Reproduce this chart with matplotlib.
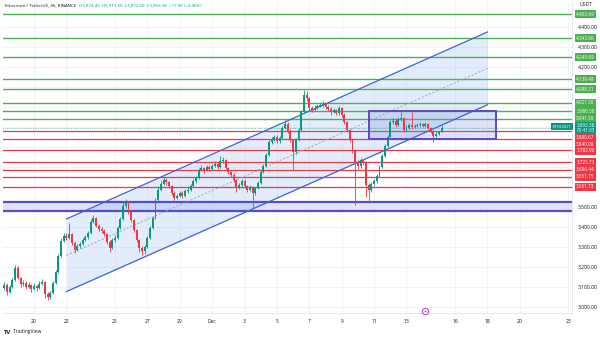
import matplotlib
matplotlib.use("Agg")
import matplotlib.pyplot as plt
import matplotlib.dates as mdates
import matplotlib.transforms as mtransforms
import numpy as np
import pandas as pd

plt.rcParams['font.family'] = ['Open Sans', 'DejaVu Sans']

# ETH/USDT 4h candles (Binance), starting 2024-11-18 04:00
first_open = 3095.0
closes = [
    3110, 3075, 3100, 3135, 3195, 3145, 3115, 3120, 3100, 3110,
    3090, 3105, 3095, 3115, 3125, 3065, 3050, 3070, 3120, 3175,
    3255, 3330, 3355, 3345, 3365, 3320, 3285, 3305, 3315, 3335,
    3350, 3370, 3425, 3445, 3405, 3390, 3380, 3365, 3325, 3295,
    3335, 3345, 3395, 3440, 3505, 3520, 3475, 3435, 3385, 3335,
    3295, 3280, 3300, 3345, 3395, 3445, 3535, 3585, 3615, 3635,
    3625, 3605, 3570, 3545, 3555, 3570, 3555, 3580, 3585, 3605,
    3630, 3645, 3685, 3695, 3685, 3700, 3690, 3705, 3715, 3700,
    3730, 3735, 3695, 3675, 3660, 3635, 3595, 3610, 3630, 3605,
    3585, 3600, 3570, 3595, 3620, 3675, 3705, 3760, 3825, 3835,
    3850, 3830, 3845, 3895, 3915, 3880, 3835, 3775, 3835, 3885,
    3975, 4060, 4045, 3995, 3985, 3995, 4005, 4010, 4015, 4000,
    3990, 3975, 3985, 3970, 3995, 3960, 3925, 3885, 3835, 3785,
    3725, 3705, 3735, 3725, 3610, 3585, 3615, 3630, 3655, 3700,
    3755, 3805, 3850, 3925, 3930, 3910, 3940, 3945, 3885, 3895,
    3910, 3900, 3905, 3910, 3915, 3905, 3915, 3895, 3880, 3855,
    3865, 3874.49, 3893.38,
]
highs = [
    3125, 3118, 3108, 3145, 3210, 3205, 3150, 3135, 3128, 3125,
    3115, 3120, 3112, 3130, 3140, 3130, 3075, 3080, 3128, 3185,
    3265, 3345, 3370, 3372, 3420, 3372, 3328, 3315, 3325, 3345,
    3362, 3380, 3440, 3460, 3452, 3415, 3398, 3390, 3372, 3335,
    3345, 3360, 3405, 3450, 3530, 3540, 3528, 3482, 3442, 3392,
    3340, 3305, 3310, 3355, 3405, 3455, 3545, 3600, 3628, 3648,
    3645, 3632, 3612, 3578, 3565, 3580, 3578, 3590, 3598, 3615,
    3640, 3655, 3695, 3708, 3702, 3712, 3708, 3715, 3728, 3722,
    3755, 3748, 3740, 3702, 3682, 3668, 3640, 3620, 3640, 3638,
    3612, 3610, 3605, 3602, 3630, 3685, 3715, 3770, 3835, 3850,
    3862, 3858, 3855, 3905, 3935, 3925, 3888, 3842, 3845, 3895,
    3985, 4085, 4080, 4052, 4005, 4008, 4015, 4022, 4028, 4022,
    4008, 3998, 3995, 3992, 4005, 4002, 3968, 3932, 3890, 3842,
    3792, 3735, 3745, 3742, 3730, 3620, 3625, 3640, 3665, 3710,
    3765, 3815, 3860, 3935, 3945, 3940, 3950, 3975, 3950, 3908,
    3920, 3975, 3915, 3920, 3925, 3922, 3925, 3920, 3900, 3885,
    3875, 3882, 3911.5,
]
lows = [
    3085, 3060, 3068, 3095, 3128, 3138, 3100, 3105, 3090, 3095,
    3075, 3085, 3080, 3090, 3108, 3045, 3035, 3042, 3065, 3115,
    3170, 3248, 3325, 3335, 3340, 3310, 3270, 3278, 3295, 3308,
    3328, 3342, 3365, 3418, 3398, 3380, 3370, 3355, 3315, 3275,
    3288, 3325, 3340, 3388, 3435, 3495, 3465, 3425, 3375, 3325,
    3275, 3260, 3265, 3295, 3338, 3388, 3440, 3528, 3578, 3608,
    3612, 3595, 3560, 3535, 3538, 3548, 3545, 3550, 3572, 3578,
    3598, 3622, 3640, 3678, 3672, 3678, 3680, 3685, 3698, 3690,
    3695, 3722, 3688, 3665, 3650, 3625, 3575, 3588, 3602, 3595,
    3575, 3578, 3495, 3560, 3588, 3615, 3668, 3700, 3755, 3815,
    3828, 3820, 3822, 3840, 3888, 3870, 3825, 3685, 3765, 3828,
    3880, 3968, 4030, 3985, 3975, 3978, 3988, 3998, 4002, 3990,
    3980, 3962, 3968, 3958, 3962, 3950, 3915, 3875, 3825, 3772,
    3510, 3690, 3695, 3712, 3550, 3520, 3575, 3605, 3622, 3648,
    3695, 3748, 3798, 3845, 3915, 3900, 3905, 3932, 3875, 3878,
    3888, 3892, 3895, 3898, 3902, 3898, 3898, 3888, 3870, 3825,
    3848, 3858, 3872.6,
]

# Horizontal support / resistance levels
green_levels = [4463.69, 4343.86, 4249.69, 4139.48, 4088.31, 4021.50, 3980.50, 3941.59]
red_levels = [3880.67, 3840.08, 3782.90, 3725.73, 3686.44, 3651.75, 3601.73]
support_band = [3480.0, 3527.0]

# Rising channel: lower / upper boundary at start and end
channel_dates = ["2024-11-22 00:00", "2024-12-18 00:00"]
channel_lower = [3077.0, 4011.0]
channel_upper = [3440.0, 4375.0]

# Consolidation box
box_dates = ["2024-12-10 16:00", "2024-12-18 12:00"]
box_prices = [3840.08, 3980.50]

date_ticks = ["2024-11-20", "2024-11-22", "2024-11-25", "2024-11-27", "2024-11-29",
              "2024-12-01", "2024-12-03", "2024-12-05", "2024-12-07", "2024-12-09",
              "2024-12-11", "2024-12-13", "2024-12-16", "2024-12-18", "2024-12-20",
              "2024-12-23"]
date_labels = ["20", "22", "25", "27", "29", "Dec", "3", "5", "7", "9", "11", "13",
               "16", "18", "20", "23"]
price_ticks = list(range(3000, 4500, 100))

last_price = 3893.38
countdown = "01:41:03"

UP = "#089981"
DOWN = "#f23645"
GREEN_LVL = "#4caf50"
RED_LVL = "#f23645"
PURPLE = "#5b4bc4"
TEXT = "#131722"

W, H = 600, 338
fig = plt.figure(figsize=(W / 100, H / 100), dpi=100)
ax = fig.add_axes([3 / W, 1 - 313 / H, 569 / W, 311 / H])
ax.set_facecolor("white")

times = pd.date_range("2024-11-18 04:00", periods=len(closes), freq="4h")
x = mdates.date2num(times.to_pydatetime())
c = np.array(closes, dtype=float)
o = np.concatenate([[first_open], c[:-1]])
h = np.maximum.reduce([np.array(highs, float), o, c])
l = np.minimum.reduce([np.array(lows, float), o, c])

ymin, ymax = 2970, 4525
ax.set_xlim(mdates.date2num(pd.Timestamp("2024-11-18 02:00")),
            mdates.date2num(pd.Timestamp("2024-12-23 05:20")))
ax.set_ylim(ymin, ymax)

# grid
for d in date_ticks:
    ax.axvline(mdates.date2num(pd.Timestamp(d)), color="#f0f3fa", lw=0.7, zorder=0)
for p in price_ticks:
    ax.axhline(p, color="#f0f3fa", lw=0.7, zorder=0)

# support band
ax.axhspan(support_band[0], support_band[1], color="#dfe4fa", zorder=1, lw=0)
for p in support_band:
    ax.axhline(p, color=PURPLE, lw=1.6, zorder=3)

# channel
cx = mdates.date2num(pd.to_datetime(channel_dates).to_pydatetime())
ax.fill_between(cx, channel_lower, channel_upper, color="#3b7be8", alpha=0.14, lw=0, zorder=1)
ax.plot(cx, channel_lower, color="#3d63d6", lw=0.9, zorder=3)
ax.plot(cx, channel_upper, color="#3d63d6", lw=0.9, zorder=3)
mid = [(a + b) / 2 for a, b in zip(channel_lower, channel_upper)]
ax.plot(cx, mid, color="#9aa3b5", lw=0.7, ls=(0, (2, 2)), zorder=3)

# levels
for p in green_levels:
    ax.axhline(p, color=GREEN_LVL, lw=1.0, zorder=2)
for p in red_levels:
    ax.axhline(p, color=RED_LVL, lw=0.9, zorder=2)

# box
bx = mdates.date2num(pd.to_datetime(box_dates).to_pydatetime())
ax.add_patch(plt.Rectangle((bx[0], box_prices[0]), bx[1] - bx[0],
                           box_prices[1] - box_prices[0], facecolor="#7b8fe8",
                           alpha=0.25, edgecolor="none", zorder=2))
ax.add_patch(plt.Rectangle((bx[0], box_prices[0]), bx[1] - bx[0],
                           box_prices[1] - box_prices[0], facecolor="none",
                           edgecolor=PURPLE, lw=1.4, zorder=6))

# candles
cols = np.where(c >= o, UP, DOWN)
ax.vlines(x, l, h, colors=cols, lw=0.6, zorder=4)
body = np.where(np.abs(c - o) < 3, 3, c - o)
ax.bar(x, body, bottom=o, width=0.12, color=cols, lw=0, zorder=5)

# last price line
ax.axhline(last_price, color=UP, lw=0.5, ls=(0, (1, 1.5)), zorder=3)

# price tags on the right scale (stacked so they don't overlap)
ppx = (ymax - ymin) / 311.0  # price per pixel
tags = [(p, f"{p:,.2f}", GREEN_LVL, 6) for p in green_levels]
tags += [(p, f"{p:,.2f}", RED_LVL, 6) for p in red_levels]
tags.append((last_price, f"{last_price:,.2f}\n{countdown}", UP, 11))
tags.sort(key=lambda t: -t[0])
placed = []
prev = None
for p, txt, col, hh in tags:
    pos = p
    if prev is not None:
        lim = prev[0] - (prev[1] / 2 + hh / 2 + 0.6) * ppx
        pos = min(pos, lim)
    prev = (pos, hh)
    placed.append((pos, txt, col, hh))

# axes styling
for s in ["top", "left"]:
    ax.spines[s].set_visible(False)
for s in ["bottom", "right"]:
    ax.spines[s].set_color("#e0e3eb")
    ax.spines[s].set_linewidth(0.6)
ax.set_xticks(mdates.date2num(pd.to_datetime(date_ticks).to_pydatetime()))
ax.set_xticklabels(date_labels)
ax.yaxis.tick_right()
ax.set_yticks(price_ticks)
# the scale hides labels that sit under a tag
ylabels = []
for p in price_ticks:
    hidden = any(abs(p - pos) < (hh / 2 + 3) * ppx for pos, _, _, hh in placed)
    ylabels.append("" if hidden else f"{p:,.2f}")
ax.set_yticklabels(ylabels)
ax.tick_params(axis="both", length=0, labelsize=3.6, labelcolor=TEXT)
ax.tick_params(axis="x", pad=4)
ax.tick_params(axis="y", pad=4)

trans = mtransforms.blended_transform_factory(ax.transAxes, ax.transData)
xt = (585.5 - 3) / 569
for pos, txt, col, hh in placed:
    ax.text(xt, pos, txt, transform=trans, ha="center", va="center", fontsize=3.3,
            color="white", linespacing=1.05, zorder=20, clip_on=False,
            bbox=dict(boxstyle="square,pad=0.35", fc=col, ec="none"))
    if col == UP:
        ax.text((562 - 3) / 569, pos + 1.5 * ppx, "ETHUSDT", transform=trans,
                ha="center", va="center", fontsize=3.1, color="white", zorder=20,
                clip_on=False,
                bbox=dict(boxstyle="square,pad=0.35", fc=UP, ec="none"))

# header
fig.text(5 / W, 1 - 5 / H, "Ethereum / TetherUS, 4h, BINANCE", fontsize=3.2,
         color=TEXT, va="center", ha="left")
fig.text(79 / W, 1 - 5 / H,
         "O3,874.49  H3,911.50  L3,872.60  C3,893.38  +17.90 (+0.46%)",
         fontsize=3.2, color=UP, va="center", ha="left")
fig.text(586 / W, 1 - 5 / H, "USDT", fontsize=3.6, color=TEXT, va="center",
         ha="center")

# event marker on the time axis
ev = mdates.date2num(pd.Timestamp("2024-12-14 04:00"))
tb = mtransforms.blended_transform_factory(ax.transData, ax.transAxes)
ax.plot([ev], [0.008], marker="o", ms=4.5, mfc="white", mec="#b04bd6", mew=0.8,
        transform=tb, clip_on=False, zorder=20)
ax.plot([ev], [0.008], marker="o", ms=1.4, mfc="#b04bd6", mec="none",
        transform=tb, clip_on=False, zorder=21)

# logo
fig.text(4 / W, 1 - 332 / H, "TV", fontsize=4.2, fontweight="bold", color=TEXT,
         va="center", ha="left")
fig.text(13 / W, 1 - 332 / H, "TradingView", fontsize=3.6, color=TEXT,
         va="center", ha="left")

fig.savefig("out.png", dpi=100, facecolor="white")
